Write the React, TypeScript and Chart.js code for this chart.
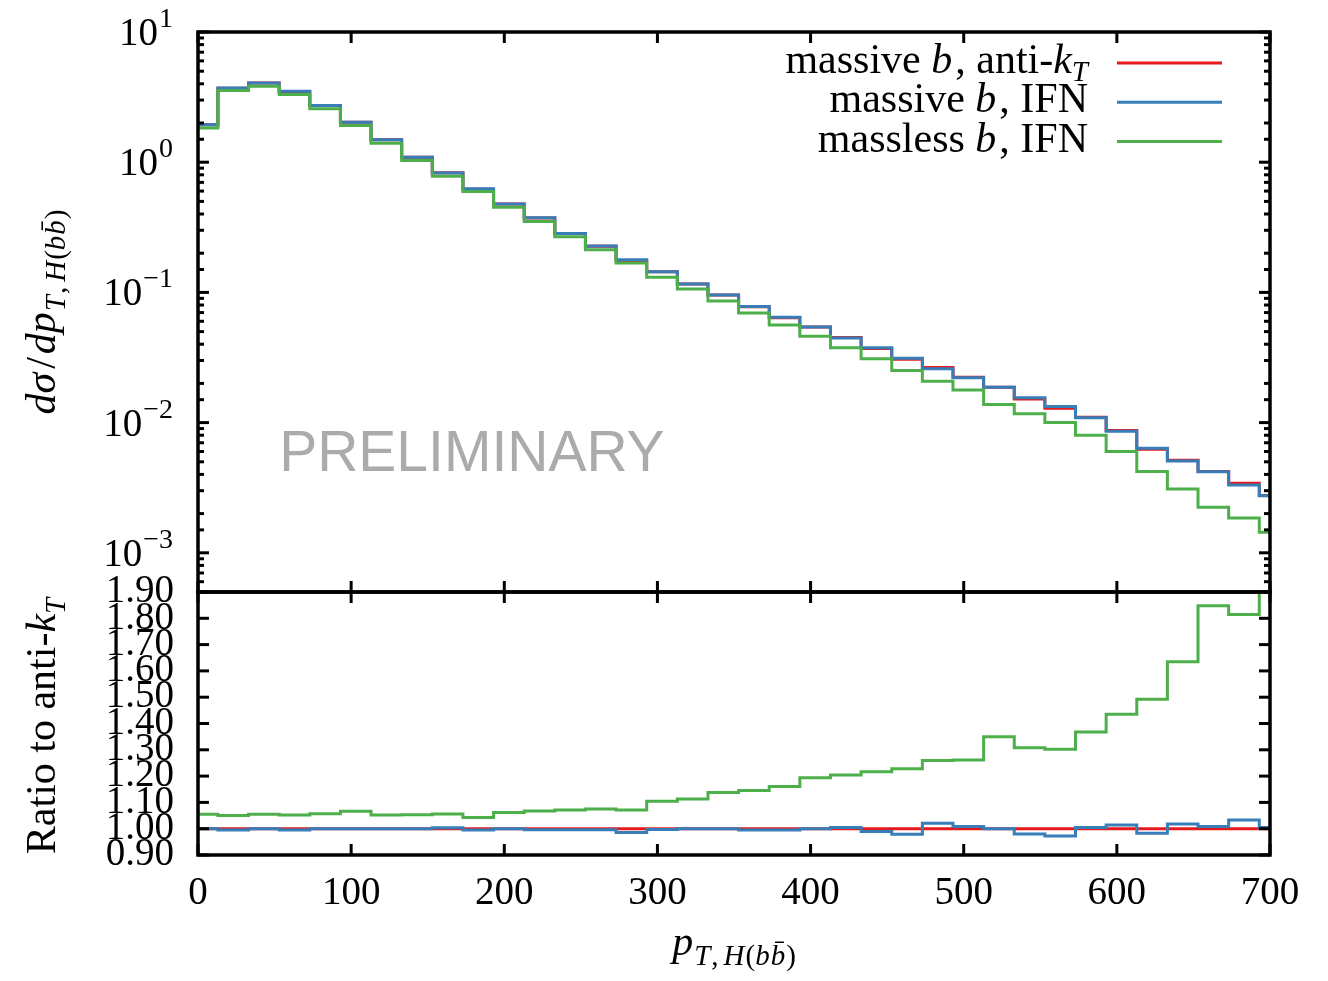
import React, { useEffect, useRef } from "react";
import { Chart, registerables } from "chart.js";

Chart.register(...registerables);

// ---------- data ----------
const binEdges = [0, 13, 33, 53, 73, 93, 113, 133, 153, 173, 193, 213, 233, 253, 273, 293, 313, 333, 353, 373, 393, 413, 433, 453, 473, 493, 513, 533, 553, 573, 593, 613, 633, 653, 673, 693, 700];

const massiveAntiKt = [1.94, 3.70, 4.06, 3.49, 2.72, 2.03, 1.49, 1.09, 0.830, 0.621, 0.477, 0.373, 0.283, 0.226, 0.176, 0.144, 0.116, 0.0954, 0.0776, 0.0640, 0.0543, 0.0450, 0.0371, 0.0306, 0.0265, 0.0223, 0.0187, 0.0152, 0.0129, 0.0110, 0.00870, 0.00625, 0.00515, 0.00422, 0.00342, 0.00276];
const massiveIFN = [1.94, 3.72, 4.06, 3.51, 2.72, 2.03, 1.49, 1.09, 0.827, 0.624, 0.477, 0.374, 0.284, 0.227, 0.178, 0.144, 0.116, 0.0954, 0.0780, 0.0643, 0.0543, 0.0447, 0.0375, 0.0312, 0.0259, 0.0221, 0.0187, 0.0155, 0.0133, 0.0109, 0.00858, 0.00636, 0.00506, 0.00419, 0.00331, 0.00274];
const masslessIFN = [1.83, 3.55, 3.83, 3.31, 2.57, 1.91, 1.40, 1.03, 0.780, 0.595, 0.450, 0.351, 0.268, 0.213, 0.168, 0.131, 0.106, 0.0858, 0.0694, 0.0562, 0.0460, 0.0375, 0.0309, 0.0251, 0.0208, 0.0178, 0.0138, 0.0117, 0.0100, 0.0080, 0.0060, 0.00422, 0.00309, 0.00224, 0.00185, 0.00144];

const ratioAntiKt = [1, 1, 1, 1, 1, 1, 1, 1, 1, 1, 1, 1, 1, 1, 1, 1, 1, 1, 1, 1, 1, 1, 1, 1, 1, 1, 1, 1, 1, 1, 1, 1, 1, 1, 1, 1];
const ratioMassiveIFN = [1.0, 0.995, 1.0, 0.995, 1.0, 1.0, 1.0, 1.0, 1.004, 0.995, 1.0, 0.996, 0.996, 0.996, 0.986, 0.997, 1.0, 1.0, 0.995, 0.995, 1.0, 1.005, 0.989, 0.979, 1.021, 1.008, 1.0, 0.98, 0.972, 1.005, 1.014, 0.983, 1.018, 1.008, 1.033, 1.005];
const ratioMasslessIFN = [1.055, 1.050, 1.055, 1.052, 1.057, 1.066, 1.052, 1.053, 1.056, 1.043, 1.062, 1.067, 1.071, 1.075, 1.071, 1.104, 1.113, 1.138, 1.145, 1.160, 1.194, 1.204, 1.217, 1.228, 1.259, 1.261, 1.350, 1.308, 1.302, 1.368, 1.435, 1.492, 1.635, 1.848, 1.814, 1.97];

const xMin = 0;
const xMax = 700;
const xStep = 100;
const logMin = 5e-4;
const logMax = 10;
const ratioMin = 0.9;
const ratioMax = 1.9;
const ratioStep = 0.1;

const watermark = "PRELIMINARY";

// ---------- style ----------
const RED = "#e41a1c";
const BLUE = "#377eb8";
const GREEN = "#4daf4a";
const SERIF = "'Liberation Serif', 'DejaVu Serif', serif";
const SANS = "'Liberation Sans', Arial, sans-serif";
const FS = 39; // tick digits
const SUB = 28;
const TFS = 42; // titles and legend

type Run = { t: string; it?: boolean; sub?: boolean; pad?: number };

function fontFor(r: Run, size: number) {
  const s = r.sub ? Math.round(size * 0.7) : size;
  return `${r.it ? "italic " : ""}${s}px ${SERIF}`;
}

function drawRuns(ctx: CanvasRenderingContext2D, runs: Run[], x: number, y: number, align: "left" | "right" | "center", subDy: number, size = TFS) {
  const widths = runs.map((r) => {
    ctx.font = fontFor(r, size);
    return ctx.measureText(r.t).width + (r.pad || 0);
  });
  const total = widths.reduce((a, b) => a + b, 0);
  let cx = align === "right" ? x - total : align === "center" ? x - total / 2 : x;
  ctx.textAlign = "left";
  ctx.textBaseline = "alphabetic";
  runs.forEach((r, i) => {
    ctx.font = fontFor(r, size);
    ctx.fillText(r.t, cx, y + (r.sub ? subDy : 0));
    cx += widths[i];
  });
}

const subscriptRuns: Run[] = [
  { t: "T", it: true, sub: true, pad: 1 },
  { t: ",", sub: true, pad: 5 },
  { t: "H", it: true, sub: true, pad: 1 },
  { t: "(", sub: true },
  { t: "b", it: true, sub: true, pad: 1 },
  { t: "b\u0304", it: true, sub: true, pad: 1 },
  { t: ")", sub: true },
];

const yTitleRuns: Run[] = [{ t: "d", it: true }, { t: "σ", it: true, pad: 4 }, { t: "/", pad: 3 }, { t: "dp", it: true, pad: 1 }, ...subscriptRuns];
const ratioTitleRuns: Run[] = [{ t: "Ratio to anti-" }, { t: "k", it: true }, { t: "T", it: true, sub: true }];
const xTitleRuns: Run[] = [{ t: "p", it: true, pad: 1 }, ...subscriptRuns];

const legendRows: { runs: Run[]; color: string }[] = [
  { runs: [{ t: "massive " }, { t: "b", it: true, pad: 3 }, { t: ", anti-" }, { t: "k", it: true }, { t: "T", it: true, sub: true }], color: RED },
  { runs: [{ t: "massive " }, { t: "b", it: true, pad: 3 }, { t: ", IFN" }], color: BLUE },
  { runs: [{ t: "massless " }, { t: "b", it: true, pad: 3 }, { t: ", IFN" }], color: GREEN },
];

function stepPoints(vals: number[]) {
  return binEdges.map((x, i) => ({ x, y: vals[Math.min(i, vals.length - 1)] }));
}

const isDecade = (v: number) => Math.abs(Math.log10(v) - Math.round(Math.log10(v))) < 1e-6;

const decorPlugin = {
  id: "decor",
  beforeDatasetsDraw(chart: any) {
    const ctx: CanvasRenderingContext2D = chart.ctx;
    const x = chart.scales.x;
    ctx.save();
    ctx.fillStyle = "#ababab";
    ctx.font = `57px ${SANS}`;
    ctx.textAlign = "left";
    ctx.textBaseline = "alphabetic";
    ctx.fillText(watermark, x.getPixelForValue(53), 471);
    ctx.restore();
  },
  afterDatasetsDraw(chart: any) {
    const ctx: CanvasRenderingContext2D = chart.ctx;
    const x = chart.scales.x;
    const y = chart.scales.y;
    const yr = chart.scales.yr;
    ctx.save();
    ctx.strokeStyle = "#000";
    ctx.lineCap = "butt";
    const line = (x1: number, y1: number, x2: number, y2: number) => {
      ctx.beginPath();
      ctx.moveTo(x1, y1);
      ctx.lineTo(x2, y2);
      ctx.stroke();
    };
    // ticks
    ctx.lineWidth = 3;
    const L = 11;
    const S = 6;
    for (const t of x.ticks) {
      const px = x.getPixelForValue(t.value);
      for (const s of [y, yr]) {
        line(px, s.top, px, s.top + L);
        line(px, s.bottom, px, s.bottom - L);
      }
    }
    for (const t of y.ticks) {
      const py = y.getPixelForValue(t.value);
      const len = isDecade(t.value) ? L : S;
      line(x.left, py, x.left + len, py);
      line(x.right, py, x.right - len, py);
    }
    for (const t of yr.ticks) {
      const py = yr.getPixelForValue(t.value);
      line(x.left, py, x.left + L, py);
      line(x.right, py, x.right - L, py);
    }
    // frame
    ctx.lineWidth = 3.5;
    ctx.strokeRect(x.left, y.top, x.right - x.left, y.bottom - y.top);
    ctx.strokeRect(x.left, yr.top, x.right - x.left, yr.bottom - yr.top);

    // log tick labels 10^k
    ctx.fillStyle = "#000";
    for (const t of y.ticks) {
      if (!isDecade(t.value)) continue;
      const py = y.getPixelForValue(t.value);
      const e = Math.round(Math.log10(t.value));
      const expTxt = e < 0 ? "\u2212" + String(-e) : String(e);
      ctx.font = `${FS}px ${SERIF}`;
      const wBase = ctx.measureText("10").width;
      ctx.font = `${SUB}px ${SERIF}`;
      const wExp = ctx.measureText(expTxt).width;
      const right = x.left - 25;
      ctx.textAlign = "left";
      ctx.textBaseline = "alphabetic";
      ctx.font = `${FS}px ${SERIF}`;
      ctx.fillText("10", right - wExp - wBase - 1, py + 13);
      ctx.font = `${SUB}px ${SERIF}`;
      ctx.fillText(expTxt, right - wExp, py - 5);
    }

    // axis titles
    ctx.save();
    ctx.translate(55, 312);
    ctx.rotate(-Math.PI / 2);
    drawRuns(ctx, yTitleRuns, 0, 0, "center", 10);
    ctx.restore();

    ctx.save();
    ctx.translate(55, 726);
    ctx.rotate(-Math.PI / 2);
    drawRuns(ctx, ratioTitleRuns, 0, 0, "center", 10);
    ctx.restore();

    drawRuns(ctx, xTitleRuns, (x.left + x.right) / 2, 955, "center", 10);

    // legend
    const legRight = 1088;
    const lineX1 = 1117;
    const lineX2 = 1222;
    legendRows.forEach((row, i) => {
      const base = 73 + i * 39.3;
      ctx.fillStyle = "#000";
      drawRuns(ctx, row.runs, legRight, base, "right", 8);
      ctx.strokeStyle = row.color;
      ctx.lineWidth = 3;
      line(lineX1, base - 10, lineX2, base - 10);
    });
    ctx.restore();
  },
};

const common = {
  stepped: "before" as const,
  borderWidth: 3,
  pointRadius: 0,
  fill: false,
  borderJoinStyle: "miter" as const,
  borderCapStyle: "butt" as const,
  clip: 0,
};

export default function App() {
  const ref = useRef<HTMLCanvasElement>(null);
  useEffect(() => {
    if (!ref.current) return;
    const chart = new Chart(ref.current, {
      type: "line",
      data: {
        datasets: [
          { ...common, label: "massless b, IFN", data: stepPoints(masslessIFN), yAxisID: "y", borderColor: GREEN, order: 1 },
          { ...common, label: "massive b, IFN", data: stepPoints(massiveIFN), yAxisID: "y", borderColor: BLUE, order: 2 },
          { ...common, label: "massive b, anti-kT", data: stepPoints(massiveAntiKt), yAxisID: "y", borderColor: RED, order: 3 },
          { ...common, label: "ratio massless b, IFN", data: stepPoints(ratioMasslessIFN), yAxisID: "yr", borderColor: GREEN, order: 1 },
          { ...common, label: "ratio massive b, IFN", data: stepPoints(ratioMassiveIFN), yAxisID: "yr", borderColor: BLUE, order: 2 },
          { ...common, label: "ratio massive b, anti-kT", data: stepPoints(ratioAntiKt), yAxisID: "yr", borderColor: RED, order: 3 },
        ] as any,
      },
      options: {
        responsive: false,
        animation: false,
        devicePixelRatio: 1,
        events: [],
        layout: { autoPadding: false, padding: { left: 0, right: 58, top: 32, bottom: 0 } },
        plugins: { legend: { display: false }, tooltip: { enabled: false } },
        scales: {
          x: {
            type: "linear",
            position: "bottom",
            min: xMin,
            max: xMax,
            grid: { display: false, drawTicks: false },
            border: { display: false },
            ticks: {
              stepSize: xStep,
              autoSkip: false,
              maxRotation: 0,
              padding: 15,
              color: "#000",
              font: { family: SERIF, size: FS },
              callback: (v: any) => String(v),
            },
            afterFit: (s: any) => {
              s.height = 126;
              s.paddingLeft = 0;
              s.paddingRight = 0;
            },
          },
          y: {
            type: "logarithmic",
            position: "left",
            min: logMin,
            max: logMax,
            stack: "panels",
            stackWeight: 560,
            weight: 2,
            grid: { display: false, drawTicks: false },
            border: { display: false },
            ticks: { display: false, autoSkip: false },
            afterFit: (s: any) => {
              s.width = 198;
              s.paddingTop = 0;
              s.paddingBottom = 0;
            },
          },
          yr: {
            type: "linear",
            position: "left",
            min: ratioMin,
            max: ratioMax,
            stack: "panels",
            stackWeight: 263,
            weight: 1,
            grid: { display: false, drawTicks: false },
            border: { display: false },
            ticks: {
              stepSize: ratioStep,
              autoSkip: false,
              maxTicksLimit: 20,
              padding: 24,
              color: "#000",
              font: { family: SERIF, size: FS },
              callback: (v: any) => Number(v).toFixed(2),
            },
            afterFit: (s: any) => {
              s.width = 198;
              s.paddingTop = 0;
              s.paddingBottom = 0;
            },
          },
        } as any,
      },
      plugins: [decorPlugin],
    });
    return () => chart.destroy();
  }, []);
  return (
    <div style={{ position: "fixed", left: 0, top: 0, width: 1328, height: 981, background: "#fff" }}>
      <canvas ref={ref} width={1328} height={981} style={{ display: "block" }} />
    </div>
  );
}
